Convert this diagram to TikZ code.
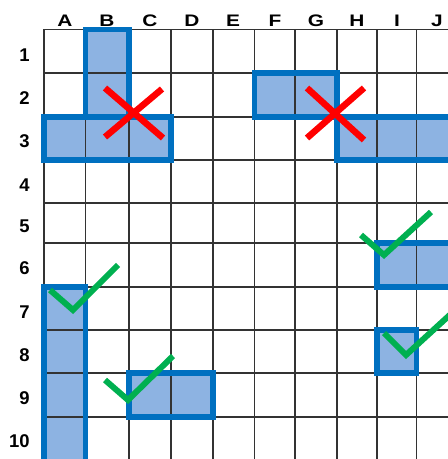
\documentclass[tikz,border=0pt]{standalone}
\usepackage{fontspec}
\setmainfont{Liberation Sans}
\usepackage{tikz}
\usetikzlibrary{positioning}
\definecolor{shipFill}{RGB}{141,179,226}
\definecolor{shipEdge}{RGB}{0,112,192}
\definecolor{hitRed}{RGB}{255,0,0}
\definecolor{okGreen}{RGB}{0,176,80}
\newcommand{\colname}[1]{\scalebox{1.25}[1]{#1}}
% ships: x1/y1/x2/y2 in pixels
\def\shiplist{85.5/29.5/129/117, 44/117/171/160, 254.5/73/337/117, 337/117/470/160,
  377/243/470/287, 377/330/416.5/373, 44/287/85.5/470, 129/373/213/417}

\begin{document}
\begin{tikzpicture}[x=0.02cm, y=-0.02cm,
  every node/.style={inner sep=0pt},
  collabel/.style={font=\bfseries\fontsize{9.5}{11}\selectfont},
  rowlabel/.style={anchor=east, font=\bfseries\fontsize{10.5}{12}\selectfont},
  shipbox/.style={fill=shipFill},
  shipedge/.style={draw=shipEdge, line width=3.1pt},
  gridline/.style={draw=black!80, line width=0.85pt},
  hitmark/.style={draw=hitRed, line width=3.7pt},
  okmark/.style={draw=okGreen, line width=3.4pt}]
  \useasboundingbox (0,0) rectangle (448,459);
  \clip (0,0) rectangle (448,459);
  % Ship fills
  \foreach \xa/\ya/\xb/\yb in \shiplist
    \fill[shipbox] (\xa,\ya) rectangle (\xb,\yb);
  % Board
  \foreach \x in {44,85.5,129,171,213,254.5,295,337,377,416.5,457}
    \draw[gridline] (\x,29.5) -- (\x,470);
  \foreach \y in {29.5,73,117,160,203,243,287,330,373,417,460}
    \draw[gridline] (44,\y) -- (470,\y);
  % Ship outlines
  \foreach \xa/\ya/\xb/\yb in \shiplist
    \draw[shipedge] (\xa,\ya) rectangle (\xb,\yb);
  % Column letters
  \node[collabel] (colA) at (64.8,20.5) {\colname{A}};
  \node[collabel] (colB) at (107,20.5) {\colname{B}};
  \node[collabel] (colC) at (150,20.5) {\colname{C}};
  \node[collabel] (colD) at (192,20.5) {\colname{D}};
  \node[collabel] (colE) at (233,20.5) {\colname{E}};
  \node[collabel] (colF) at (275,20.5) {\colname{F}};
  \node[collabel] (colG) at (316,20.5) {\colname{G}};
  \node[collabel] (colH) at (357,20.5) {\colname{H}};
  \node[collabel] (colI) at (397,20.5) {\colname{I}};
  \node[collabel] (colJ) at (437,20.5) {\colname{J}};
  % Row numbers
  \node[rowlabel] (row1) at (30,54.8) {1};
  \node[rowlabel] (row2) at (30,98.5) {2};
  \node[rowlabel] (row3) at (30,141.5) {3};
  \node[rowlabel] (row4) at (30,185) {4};
  \node[rowlabel] (row5) at (30,226.5) {5};
  \node[rowlabel] (row6) at (30,268.5) {6};
  \node[rowlabel] (row7) at (30,312) {7};
  \node[rowlabel] (row8) at (30,355) {8};
  \node[rowlabel] (row9) at (30,398.5) {9};
  \node[rowlabel] (row10) at (30,441) {10};
  % Hits
  \draw[hitmark] (105,88) -- (163,138) (105,137) -- (162,89);
  \draw[hitmark] (307,88) -- (364,140) (307,138) -- (364,88);
  % Checks
  \draw[okmark] (361,235) -- (384,255) -- (431,212);
  \draw[okmark] (384,333) -- (406,355) -- (453,312);
  \draw[okmark] (50,290) -- (73,310) -- (118,265);
  \draw[okmark] (105,380) -- (128,400) -- (173,356);
\end{tikzpicture}
\end{document}
